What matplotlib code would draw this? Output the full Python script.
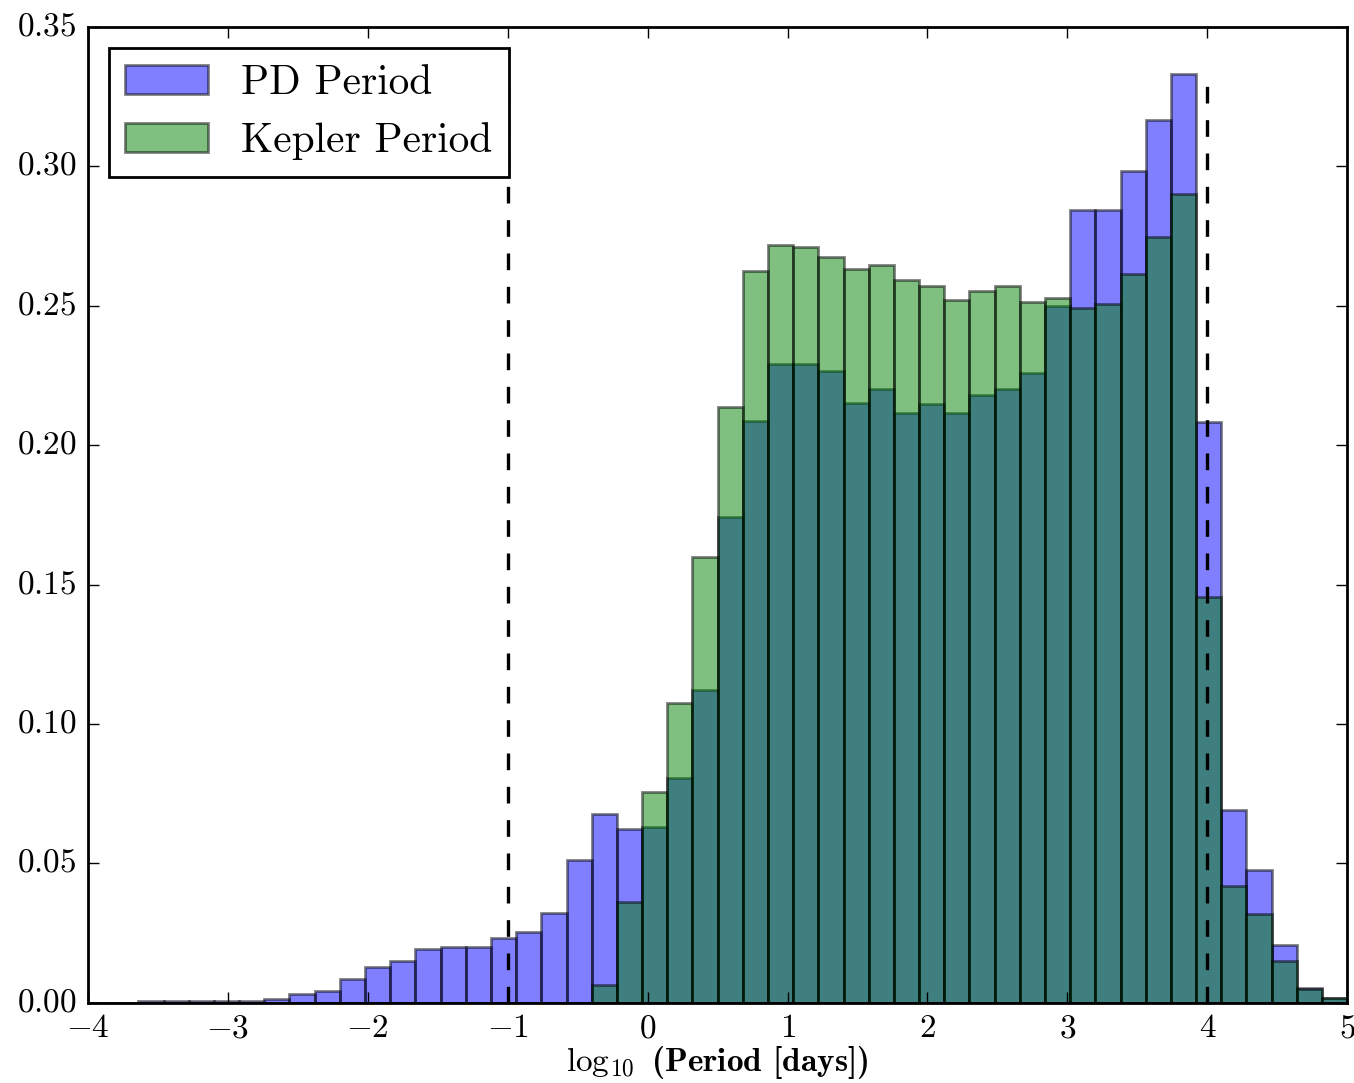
import matplotlib
matplotlib.use('Agg')
import matplotlib.pyplot as plt
import numpy as np

plt.style.use('classic')
plt.rcParams['font.family'] = 'serif'
plt.rcParams['font.serif'] = ['cmr10']
plt.rcParams['mathtext.fontset'] = 'cm'
plt.rcParams['axes.formatter.use_mathtext'] = True

# 50 bins between -4 and 5 in log10(period)
bin_edges = np.linspace(-4, 5, 51)

pd_period = [0.0, 0.0, 0.0005, 0.0005, 0.0005, 0.0005, 0.0005, 0.0013, 0.003, 0.0042,
             0.0085, 0.0129, 0.0151, 0.0194, 0.0201, 0.0201, 0.0231, 0.0255, 0.0321, 0.0512,
             0.0679, 0.0625, 0.0631, 0.0807, 0.1121, 0.1742, 0.2086, 0.2290, 0.2290, 0.2266,
             0.2152, 0.2201, 0.2114, 0.2149, 0.2114, 0.2179, 0.2201, 0.2259, 0.2498, 0.2843,
             0.2843, 0.2983, 0.3165, 0.3333, 0.2083, 0.0691, 0.0478, 0.0209, 0.0055, 0.0019]

kepler_period = [0.0, 0.0, 0.0, 0.0, 0.0, 0.0, 0.0, 0.0, 0.0, 0.0,
                 0.0, 0.0, 0.0, 0.0, 0.0, 0.0, 0.0, 0.0, 0.0, 0.0,
                 0.0063, 0.0362, 0.0757, 0.1077, 0.1598, 0.2136, 0.2625, 0.2720, 0.2711, 0.2675,
                 0.2631, 0.2645, 0.2594, 0.2573, 0.2522, 0.2552, 0.2573, 0.2514, 0.2530, 0.2493,
                 0.2508, 0.2616, 0.2747, 0.2903, 0.1456, 0.0418, 0.0318, 0.0150, 0.0048, 0.0019]

# period cuts
cuts = [-1, 4]

centers = 0.5 * (bin_edges[:-1] + bin_edges[1:])

fig = plt.figure(figsize=(6.77, 5.415), dpi=200, facecolor='white')
ax = fig.add_axes([0.065, 0.074, 0.93, 0.901])

ax.hist(centers, bins=bin_edges, weights=pd_period, color='b', alpha=0.5, label='PD Period')
ax.hist(centers, bins=bin_edges, weights=kepler_period, color='g', alpha=0.5, label='Kepler Period')

ax.vlines(cuts, 0, max(pd_period), color='k', linestyle='--', lw=1.2)

ax.set_xlim(-4, 5)
ax.set_ylim(0, 0.35)
ax.set_xticks(range(-4, 6))
ax.set_yticks(np.arange(0, 0.351, 0.05))
ax.tick_params(labelsize=12)
ax.set_xlabel(r'$\log_{10}$ (Period [days])', family='cmb10', fontsize=12, labelpad=0)

ax.legend(loc='upper left', fontsize=14.9)

fig.savefig('out.png', dpi=200, facecolor='white')
